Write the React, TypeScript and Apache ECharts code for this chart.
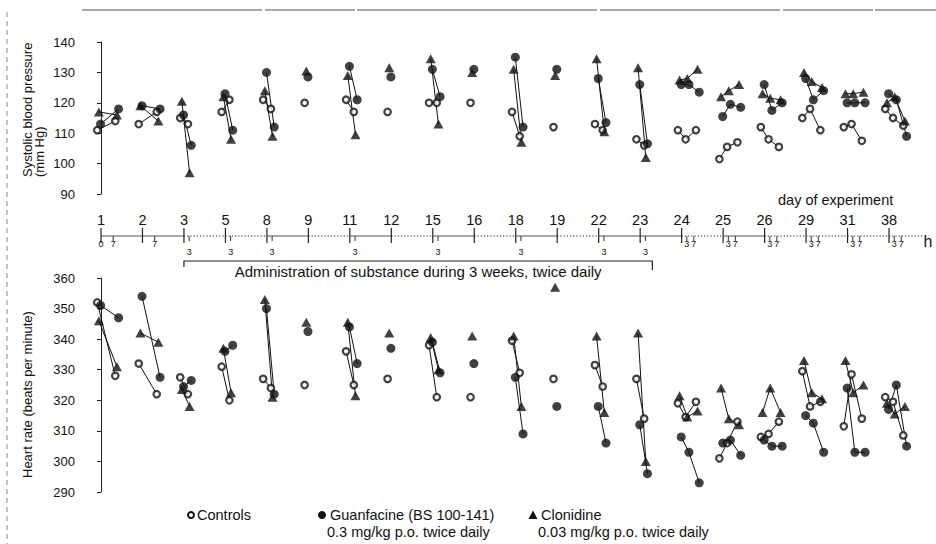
import React, { useEffect, useRef } from 'react';
import * as echarts from 'echarts';

const FONT = '"Liberation Sans", Arial, Helvetica, sans-serif';

// ---------- data ----------
const days = ['1', '2', '3', '5', '8', '9', '11', '12', '15', '16', '18', '19', '22', '23', '24', '25', '26', '29', '31', '38'];
const dayHours = [[0, 7], [0, 7], [0, 3], [0, 3], [0, 3], [0], [0, 3], [0], [0, 3], [0], [0, 3], [0], [0, 3], [0, 3], [0, 3, 7], [0, 3, 7], [0, 3, 7], [0, 3, 7], [0, 3, 7], [0, 3, 7]];
// style of the day-axis segment between consecutive listed days
const axisSegmentStyles = ['solid', 'solid', 'dotted', 'dotted', 'solid', 'dotted', 'solid', 'dotted', 'solid', 'dotted', 'solid', 'dotted', 'solid', 'solid', 'dotted', 'solid', 'dotted', 'dotted', 'dotted'];
const adminStart = { day: '3', hour: 0 };
const adminEnd = { day: '23', hour: 7 };
const adminLabel = 'Administration of substance during 3 weeks, twice daily';

const bpTicks = [90, 100, 110, 120, 130, 140];
const hrTicks = [290, 300, 310, 320, 330, 340, 350, 360];

// Systolic blood pressure (mm Hg), per day, per measurement hour
const bpControls = [[111, 114], [113, 117], [115, 113], [117, 121], [121, 118], [120], [121, 117], [117], [120, 120], [120], [117, 109], [112], [113, 111], [108, 106], [111, 108, 111], [101.5, 105.5, 107], [112, 108, 105.5], [115, 118, 111], [112, 113, 107.5], [118, 115, 112.5]];
const bpGuanfacine = [[113, 118], [119, 118], [116, 106], [123, 111], [130, 112], [128.5], [132, 121], [128.5], [131, 122], [131], [135, 112], [131], [128, 113.5], [126, 106.5], [126, 126, 123.5], [115.5, 119.5, 118.5], [126, 117.5, 120], [128, 121, 124], [120, 120, 120], [123, 121, 109]];
const bpClonidine = [[117, 116], [119, 114], [120.5, 97], [122, 108], [124, 109], [130.5], [129, 109.5], [131.5], [134.5, 113], [130], [131, 107], [129], [134.5, 110.5], [131.5, 102], [127.5, 128, 131], [122, 124, 126], [123, 121.5, 121], [130, 127, 125], [123, 123, 123.5], [120, 122, 114]];

// Heart rate (beats per minute)
const hrControls = [[352, 328], [332, 322], [327.5, 322], [331, 320], [327, 324], [325], [336, 325], [327], [338, 321], [321], [339.5, 329], [327], [331.5, 324.5], [327, 314], [319, 314.5, 319.5], [301, 306, 313], [308, 309, 313], [329.5, 318, 319.5], [311.5, 328.5, 314], [321, 319.5, 308.5]];
const hrGuanfacine = [[351, 347], [354, 327.5], [324.5, 326.5], [336, 338], [350, 322], [342.5], [344, 332], [337], [339, 329], [332], [327.5, 309], [318], [318, 306], [312, 296], [308, 303, 293], [306, 307, 302], [307, 305, 305], [315, 312.5, 303], [324, 303, 303], [317, 325, 305]];
const hrClonidine = [[346, 331], [342, 339], [323.5, 318], [337, 322.5], [353, 321], [345.5], [345.5, 321.5], [342], [340.5, 330], [341], [341, 318], [357], [341, 316], [342, 300], [321.5, 314.5, 316.5], [324, 314, 312], [316, 324, 316], [333, 322.5, 320.5], [333, 322.5, 325], [319, 315.5, 318]];

const legendNames = ['Controls', 'Guanfacine (BS 100-141)', 'Clonidine'];
const legendNotes = ['', '0.3 mg/kg p.o. twice daily', '0.03 mg/kg p.o. twice daily'];

// ---------- layout constants ----------
const X_MIN = -0.458;
const X_MAX = 19.94;
const AXIS_TAIL = 19.8;
const MK_BASE = -0.05; // marker offset from day tick
const MK_H = 0.062; // marker spread per hour
const AX_H = 0.042; // axis hour-tick spacing per hour

const groups = [
  { bp: bpControls, hr: hrControls, symbol: 'circle', symbolSize: 6.5, itemStyle: { color: '#ffffff', borderColor: '#111', borderWidth: 2.2 }, dx: -0.04 },
  { bp: bpGuanfacine, hr: hrGuanfacine, symbol: 'circle', symbolSize: 9, itemStyle: { color: '#111' }, dx: 0.04 },
  { bp: bpClonidine, hr: hrClonidine, symbol: 'triangle', symbolSize: [10, 9], itemStyle: { color: '#111' }, dx: 0 },
];

const xOf = (i: number, h: number, dx: number) => i + MK_BASE + h * MK_H + dx;

function txt(text: string, x: number, y: number, size: number, align = 'left', vAlign = 'middle') {
  return {
    type: 'text',
    style: {
      text, x, y, fill: '#111', font: `${size}px ${FONT}`,
      align, verticalAlign: vAlign, textAlign: align, textVerticalAlign: vAlign,
    },
  };
}

function buildOption() {
  const series: any[] = [];
  [0, 1].forEach((panel) => {
    groups.forEach((g) => {
      const vals = panel === 0 ? g.bp : g.hr;
      vals.forEach((dayVals, i) => {
        if (dayVals.length > 1) {
          series.push({
            type: 'line', xAxisIndex: panel, yAxisIndex: panel, silent: true, z: 2,
            symbol: 'none', lineStyle: { color: '#111', width: 1 },
            data: dayVals.map((v, k) => [xOf(i, dayHours[i][k], g.dx), v]),
          });
        }
      });
    });
    groups.forEach((g) => {
      const vals = panel === 0 ? g.bp : g.hr;
      const pts: number[][] = [];
      vals.forEach((dayVals, i) => dayVals.forEach((v, k) => pts.push([xOf(i, dayHours[i][k], g.dx), v])));
      series.push({
        type: 'scatter', xAxisIndex: panel, yAxisIndex: panel, silent: true, z: 3,
        symbol: g.symbol, symbolSize: g.symbolSize, itemStyle: g.itemStyle, data: pts,
      });
    });
  });

  // day-of-experiment axis
  series.push({
    type: 'custom', xAxisIndex: 2, yAxisIndex: 2, clip: false, silent: true, z: 5,
    data: days.map((d, i) => [i, 1]),
    renderItem: (params: any, api: any) => {
      const i = api.value(0);
      const p = api.coord([i, 1]);
      const x = p[0];
      const y = p[1];
      const children: any[] = [];
      const last = i >= days.length - 1;
      const x2 = api.coord([last ? AXIS_TAIL : i + 1, 1])[0];
      const dotted = last ? true : axisSegmentStyles[i] === 'dotted';
      children.push({
        type: 'line', shape: { x1: x, y1: y, x2, y2: y },
        style: dotted ? { stroke: '#222', lineWidth: 1, lineDash: [1.2, 2] } : { stroke: '#555', lineWidth: 1 },
      });
      children.push({ type: 'line', shape: { x1: x, y1: y - 8, x2: x, y2: y + 7 }, style: { stroke: '#222', lineWidth: 1.2 } });
      children.push(txt(days[i], x, y - 16, 14.5, 'center'));
      const hrs = dayHours[i];
      const labY = y + (hrs.includes(7) ? 8 : 16);
      hrs.forEach((h) => {
        const hx = api.coord([i + h * AX_H, 1])[0];
        if (h > 0) children.push({ type: 'line', shape: { x1: hx, y1: y, x2: hx, y2: y + 5 }, style: { stroke: '#333', lineWidth: 1 } });
        if (h > 0 || i === 0) children.push(txt(String(h), hx, labY, 9, 'center'));
      });
      return { type: 'group', children };
    },
  });

  // administration bracket
  series.push({
    type: 'custom', xAxisIndex: 2, yAxisIndex: 2, clip: false, silent: true, z: 5,
    data: [[days.indexOf(adminStart.day) + adminStart.hour * AX_H, days.indexOf(adminEnd.day) + adminEnd.hour * AX_H]],
    renderItem: (params: any, api: any) => {
      const x1 = api.coord([api.value(0), 1])[0];
      const x2 = api.coord([api.value(1), 1])[0];
      const y = api.coord([0, 1])[1] + 25;
      return {
        type: 'group',
        children: [
          { type: 'polyline', shape: { points: [[x1, y + 6], [x1, y], [x2, y], [x2, y + 9]] }, style: { stroke: '#222', lineWidth: 1.2, fill: 'none' } },
          txt(adminLabel, (x1 + x2) / 2, y + 10, 15, 'center'),
        ],
      };
    },
  });

  const yAxisBase = {
    type: 'value',
    axisLine: { show: true, lineStyle: { color: '#222', width: 1 } },
    axisTick: { show: true, length: 4, lineStyle: { color: '#222' } },
    axisLabel: { color: '#111', fontSize: 13, fontFamily: FONT, margin: 7 },
    splitLine: { show: false },
  };

  const legendX = [191, 322, 533];
  const ly1 = 515;
  const ly2 = 532;
  const LF = 14.5;
  const graphic: any[] = [
    // scan frame remnants
    { type: 'line', shape: { x1: 82, y1: 10, x2: 936, y2: 10 }, style: { stroke: '#555', lineWidth: 1, lineDash: [180, 3, 90, 2, 240, 3] } },
    { type: 'line', shape: { x1: 7, y1: 12, x2: 7, y2: 544 }, style: { stroke: '#888', lineWidth: 1, lineDash: [5, 4] } },
    // axis titles
    { type: 'text', x: 27, y: 177, rotation: Math.PI / 2, style: { text: 'Systolic blood pressure', x: 0, y: 0, fill: '#111', font: `13px ${FONT}`, align: 'left', verticalAlign: 'middle', textAlign: 'left', textVerticalAlign: 'middle' } },
    { type: 'text', x: 39, y: 177, rotation: Math.PI / 2, style: { text: '(mm Hg)', x: 0, y: 0, fill: '#111', font: `13px ${FONT}`, align: 'left', verticalAlign: 'middle', textAlign: 'left', textVerticalAlign: 'middle' } },
    { type: 'text', x: 27, y: 478, rotation: Math.PI / 2, style: { text: 'Heart rate (beats per minute)', x: 0, y: 0, fill: '#111', font: `13px ${FONT}`, align: 'left', verticalAlign: 'middle', textAlign: 'left', textVerticalAlign: 'middle' } },
    txt('day of experiment', 778, 200, 14.5),
    txt('h', 928, 241, 16, 'center'),
    // legend
    { type: 'circle', shape: { cx: legendX[0], cy: ly1, r: 3 }, style: { fill: '#fff', stroke: '#111', lineWidth: 2 } },
    txt(legendNames[0], legendX[0] + 6, ly1, LF),
    { type: 'circle', shape: { cx: legendX[1], cy: ly1, r: 4 }, style: { fill: '#111' } },
    txt(legendNames[1], legendX[1] + 8, ly1, LF),
    txt(legendNotes[1], legendX[1] + 5, ly2, LF),
    { type: 'polygon', shape: { points: [[legendX[2], ly1 - 4.5], [legendX[2] + 4.5, ly1 + 4], [legendX[2] - 4.5, ly1 + 4]] }, style: { fill: '#111' } },
    txt(legendNames[2], legendX[2] + 8, ly1, LF),
    txt(legendNotes[2], legendX[2] + 5, ly2, LF),
  ];

  return {
    animation: false,
    backgroundColor: '#ffffff',
    textStyle: { fontFamily: FONT },
    grid: [
      { left: 82, top: 42, width: 846, height: 152 },
      { left: 82, top: 278, width: 846, height: 214 },
      { left: 82, top: 236, width: 846, height: 20 },
    ],
    xAxis: [0, 1, 2].map((gi) => ({ gridIndex: gi, type: 'value', min: X_MIN, max: X_MAX, show: false })),
    yAxis: [
      { ...yAxisBase, gridIndex: 0, min: bpTicks[0], max: bpTicks[bpTicks.length - 1], interval: bpTicks[1] - bpTicks[0] },
      { ...yAxisBase, gridIndex: 1, min: hrTicks[0], max: hrTicks[hrTicks.length - 1], interval: hrTicks[1] - hrTicks[0] },
      { gridIndex: 2, type: 'value', min: 0, max: 1, show: false },
    ],
    graphic,
    series,
  };
}

export default function App() {
  const ref = useRef<HTMLDivElement>(null);
  useEffect(() => {
    document.body.style.margin = '0';
    const chart = echarts.init(ref.current as HTMLDivElement, null, { renderer: 'svg' });
    chart.setOption(buildOption() as any);
    return () => chart.dispose();
  }, []);
  return <div ref={ref} style={{ width: 936, height: 544, background: '#fff' }} />;
}
